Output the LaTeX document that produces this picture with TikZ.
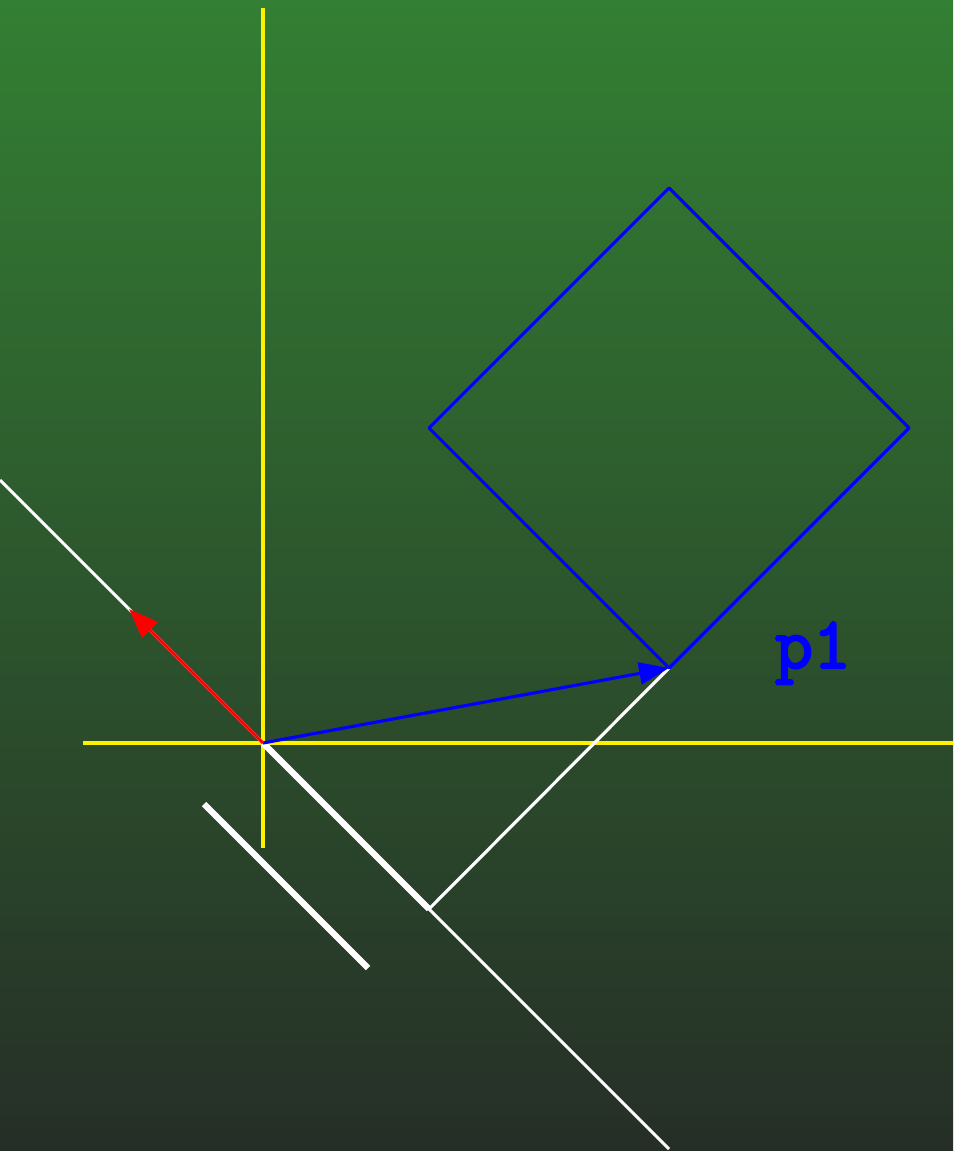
\documentclass[tikz,border=0pt]{standalone}
\usepackage{fontspec}
\setmonofont{Latin Modern Mono}[AutoFakeBold=3]
\usetikzlibrary{positioning, arrows.meta}
\definecolor{bgtop}{RGB}{51,127,51}
\definecolor{bgbot}{RGB}{38,46,39}

\begin{document}
\begin{tikzpicture}[
				x=0.02cm, y=-0.02cm,
				axis/.style={yellow, line width=2.2pt},
				wline/.style={white, line width=1.8pt},
				wthick/.style={white, line width=3.6pt},
				vec/.style={line width=1.8pt, -{Triangle[length=17pt, width=12.5pt]}}
				]
				\fill[top color=bgtop, bottom color=bgbot] (0,0) rectangle (953,1151);
				\useasboundingbox (0,0) rectangle (953,1151);
				% points
				\coordinate (o) at (263,743);
				\coordinate (ytop) at (263,8);
				\coordinate (ybot) at (263,848);
				\coordinate (xleft) at (83,743);
				\coordinate (xright) at (953,743);
				\coordinate (sqtop) at (669,188);
				\coordinate (sqright) at (909,428);
				\coordinate (sqbot) at (669,668);
				\coordinate (sqleft) at (429,428);
				\coordinate (normal) at (129,609);
				\coordinate (lineA) at (0,480);
				\coordinate (lineB) at (669,1149);
				\coordinate (foot) at (429,909);
				\coordinate (segA) at (204,804);
				\coordinate (segB) at (368,968);
				% axes
				\draw[axis] (ytop) -- (ybot);
				\draw[axis] (xleft) -- (xright);
				% separating line
				\draw[wline] (lineA) -- (lineB);
				\draw[wline] (foot) -- (sqbot);
				\draw[wthick] (o) -- (foot);
				\draw[wthick] (segA) -- (segB);
				% box
				\draw[blue, line width=1.8pt, line join=round] (sqtop) -- (sqright) -- (sqbot) -- (sqleft) -- cycle;
				\draw[vec, blue] (o) -- (sqbot);
				\draw[vec, red] (o) -- (normal);
				\node[blue, anchor=base, inner sep=0pt, font=\ttfamily\bfseries\fontsize{42}{42}\selectfont] (p1) at (813,668) {p1};
			\end{tikzpicture}
\end{document}
